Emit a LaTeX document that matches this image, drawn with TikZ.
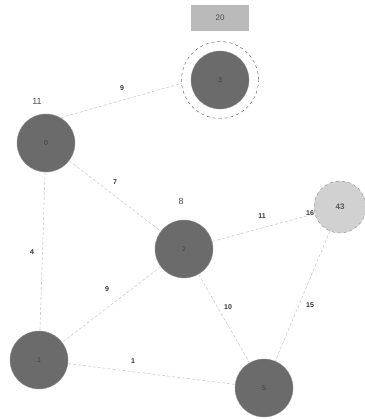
\documentclass[tikz,border=0pt]{standalone}
\usepackage{fontspec}
\setmainfont{Liberation Sans}
\begin{document}
\begin{tikzpicture}[x=1pt,y=-1pt,
  vtx/.style={circle,fill=black!58,draw=black!45,minimum size=58pt,inner sep=0pt,font=\fontsize{7}{8}\selectfont,text=black!75},
  lite/.style={circle,fill=black!18,draw=black!45,dashed,minimum size=52pt,inner sep=0pt,font=\fontsize{8}{9}\selectfont\bfseries,text=black!65},
  edge/.style={draw=black!20,densely dashed,line width=0.6pt},
  elab/.style={font=\fontsize{7}{8}\selectfont\bfseries,text=black!80,inner sep=1pt},
  toplab/.style={font=\fontsize{9}{10}\selectfont,text=black!70}]
\useasboundingbox (0,0) rectangle (364,420);
\node[vtx] (n3) at (220,80) {3};
\node[circle,draw=black!70,dashed,minimum size=77pt] (ring) at (220,80) {};
\node[fill=black!27,minimum width=58pt,minimum height=26pt,inner sep=0pt,font=\fontsize{8}{9}\selectfont,text=black!70] (box) at (220,18) {20};
\node[vtx] (n0) at (46,143) {0};
\node[toplab] (l0) at (37,101) {11};
\node[vtx] (n2) at (184,249) {2};
\node[toplab] (l2) at (181,201) {8};
\node[lite] (n4) at (340,207) {43};
\node[vtx] (n1) at (39,360) {1};
\node[vtx] (n5) at (264,388) {5};
\draw[edge] (n0.60) -- (ring.185);
\draw[edge] (n0) -- (n2);
\draw[edge] (n0) -- (n1);
\draw[edge] (n2) -- (n4);
\draw[edge] (n2) -- (n1);
\draw[edge] (n2) -- (n5);
\draw[edge] (n4) -- (n5);
\draw[edge] (n1) -- (n5);
\node[elab] (e03) at (122,88) {9};
\node[elab] (e02) at (115,182) {7};
\node[elab] (e01) at (32,252) {4};
\node[elab] (e24) at (262,216) {11};
\node[elab] (e16) at (310,213) {16};
\node[elab] (e21) at (107,289) {9};
\node[elab] (e25) at (228,307) {10};
\node[elab] (e45) at (310,305) {15};
\node[elab] (e15) at (133,361) {1};
\end{tikzpicture}
\end{document}
